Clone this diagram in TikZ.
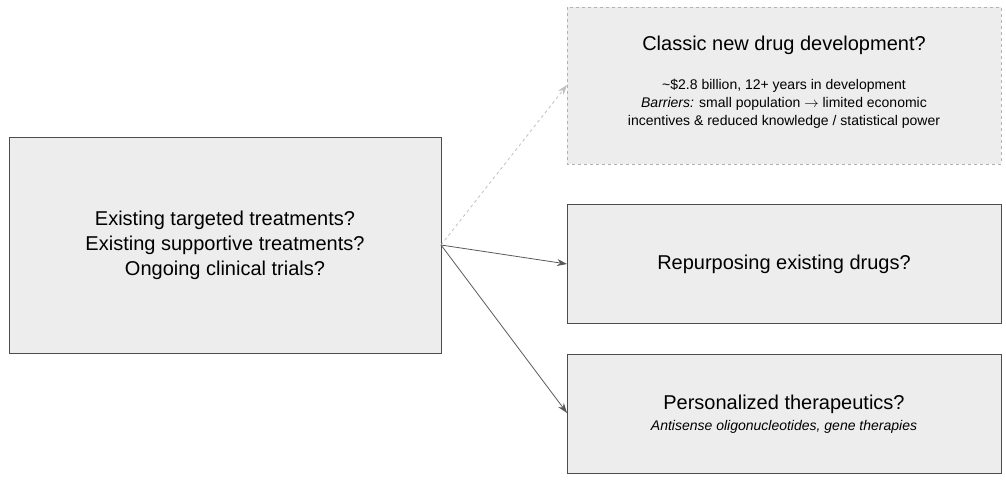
\documentclass[tikz,border=0pt]{standalone}
\usepackage{fontspec}
\setmainfont{Liberation Sans}
\usetikzlibrary{arrows.meta}
\begin{document}
\begin{tikzpicture}[x=1pt,y=-1pt,
  box/.style={draw=black!70,fill=black!7,line width=0.8pt},
  big/.style={font=\fontsize{20}{25}\selectfont,align=center},
  sm/.style={font=\fontsize{14}{18}\selectfont,align=center},
  arr/.style={draw=black!65,line width=0.8pt,-{Stealth[length=10pt,width=7pt]}}]
\useasboundingbox (0,0) rectangle (1006,483);
\draw[box] (9,137) rectangle (441,353);
\node[big] (l) at (225,245) {Existing targeted treatments?\\Existing supportive treatments?\\Ongoing clinical trials?};
\draw[box,draw=black!30,dashed] (567,7) rectangle (1001,164);
\node[big] (t) at (784,45) {Classic new drug development?};
\node[sm] (ts) at (784,104) {\textasciitilde\$2.8 billion, 12+ years in development\\\textit{Barriers:} small population $\rightarrow$ limited economic\\incentives \& reduced knowledge / statistical power};
\draw[box] (567,204) rectangle (1001,323);
\node[big] (m) at (784,264) {Repurposing existing drugs?};
\draw[box] (567,354) rectangle (1001,473);
\node[big] (b) at (784,404) {Personalized therapeutics?};
\node[sm] (bs) at (784,427) {\textit{Antisense oligonucleotides, gene therapies}};
\coordinate (s) at (441,245);
\coordinate (e1) at (567,85);
\coordinate (e2) at (567,264);
\coordinate (e3) at (567,413);
\draw[arr,draw=black!25,dashed] (s) -- (e1);
\draw[arr] (s) -- (e2);
\draw[arr] (s) -- (e3);
\end{tikzpicture}
\end{document}
